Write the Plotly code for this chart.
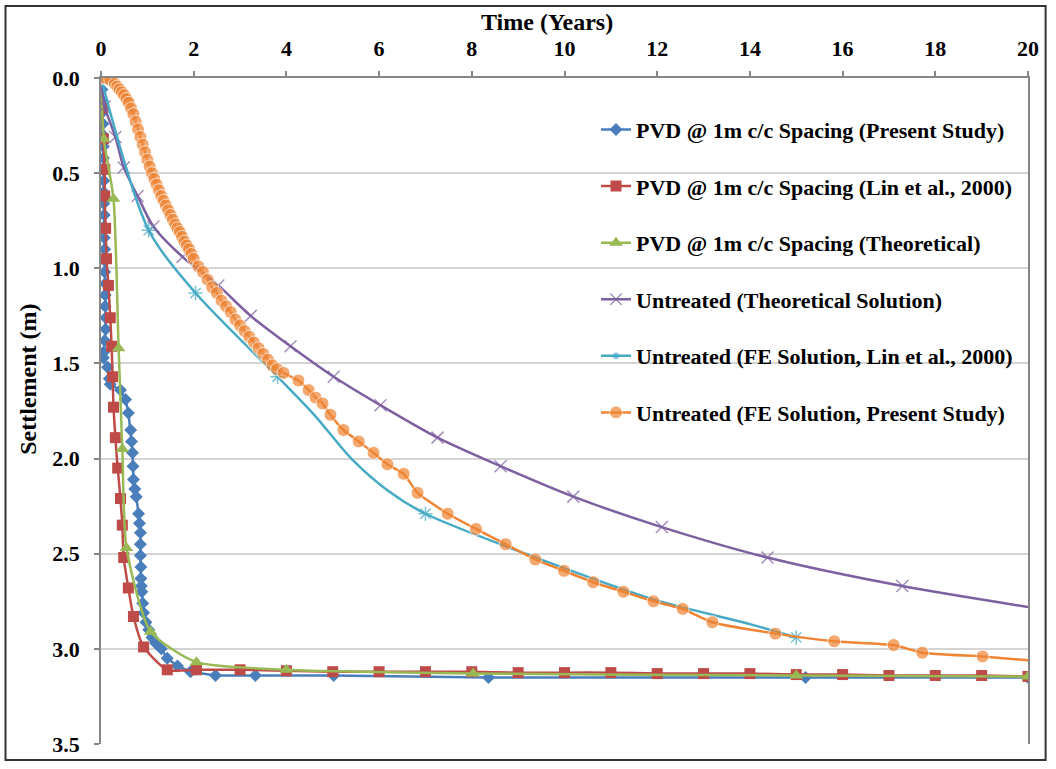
import plotly.graph_objects as go

# ---------------- data ----------------
x_ticks = [0, 2, 4, 6, 8, 10, 12, 14, 16, 18, 20]
y_ticks = [0.0, 0.5, 1.0, 1.5, 2.0, 2.5, 3.0, 3.5]
y_tick_labels = ["0.0", "0.5", "1.0", "1.5", "2.0", "2.5", "3.0", "3.5"]

names = [
    "PVD @ 1m c/c Spacing (Present Study)",
    "PVD @ 1m c/c Spacing (Lin et al., 2000)",
    "PVD @ 1m c/c Spacing (Theoretical)",
    "Untreated (Theoretical Solution)",
    "Untreated (FE Solution, Lin et al., 2000)",
    "Untreated (FE Solution, Present Study)",
]

# PVD present study (blue diamonds)
pvd_present_t = [0.00, 0.02, 0.03, 0.03, 0.04, 0.04, 0.05, 0.05, 0.05, 0.06, 0.06, 0.06, 0.07,
                 0.07, 0.07, 0.08, 0.08, 0.08, 0.09, 0.09, 0.09, 0.10, 0.10, 0.08, 0.06, 0.05,
                 0.14, 0.18, 0.20, 0.42, 0.53, 0.59, 0.64, 0.66, 0.68, 0.69, 0.70, 0.73, 0.76,
                 0.81, 0.83, 0.85, 0.85, 0.85, 0.86, 0.86, 0.87, 0.88, 0.90, 0.92, 0.97, 1.03,
                 1.10, 1.18, 1.30, 1.43, 1.65, 1.93, 2.47, 3.33, 5.02, 8.36, 15.2, 20.0]
pvd_present_s = [0.00, 0.06, 0.12, 0.18, 0.24, 0.30, 0.36, 0.42, 0.48, 0.54, 0.60, 0.66, 0.72,
                 0.78, 0.84, 0.90, 0.96, 1.02, 1.08, 1.14, 1.20, 1.26, 1.32, 1.38, 1.44, 1.47,
                 1.52, 1.58, 1.61, 1.64, 1.69, 1.76, 1.85, 1.91, 1.97, 2.04, 2.11, 2.16, 2.20,
                 2.29, 2.34, 2.39, 2.45, 2.51, 2.57, 2.63, 2.67, 2.70, 2.76, 2.81, 2.86, 2.90,
                 2.94, 2.97, 3.00, 3.05, 3.09, 3.12, 3.14, 3.14, 3.14, 3.15, 3.15, 3.15]

# PVD Lin et al. 2000 (red squares)
pvd_lin_t = [0.00, 0.03, 0.05, 0.08, 0.08, 0.10, 0.12, 0.16, 0.20, 0.23, 0.25, 0.27, 0.31, 0.36,
             0.42, 0.46, 0.49, 0.59, 0.70, 0.92, 1.43, 2.06, 3, 4, 5, 6, 7, 8, 9, 10, 11, 12,
             13, 14, 15, 16, 17, 18, 19, 20]
pvd_lin_s = [0.00, 0.16, 0.32, 0.48, 0.62, 0.79, 0.95, 1.09, 1.26, 1.41, 1.57, 1.73, 1.89, 2.05,
             2.21, 2.35, 2.52, 2.68, 2.83, 2.99, 3.11, 3.11, 3.11, 3.115, 3.12, 3.12, 3.12,
             3.12, 3.125, 3.125, 3.125, 3.13, 3.13, 3.13, 3.135, 3.135, 3.14, 3.14, 3.14, 3.145]

# PVD theoretical (green triangles)
pvd_theo_t = [0.00, 0.06, 0.27, 0.38, 0.46, 0.55, 1.07, 2.06, 4.0, 8.03, 15.0, 20.0]
pvd_theo_s = [0.00, 0.32, 0.635, 1.42, 1.95, 2.47, 2.91, 3.07, 3.11, 3.13, 3.14, 3.145]

# Untreated theoretical (purple x)
unt_theo_t = [0.00, 0.08, 0.31, 0.49, 0.79, 1.13, 1.76, 2.53, 3.23, 4.09, 5.02, 6.03, 7.26,
              8.62, 10.19, 12.10, 14.38, 17.29, 20.0]
unt_theo_s = [0.00, 0.15, 0.31, 0.47, 0.62, 0.78, 0.94, 1.09, 1.25, 1.41, 1.57, 1.72, 1.89,
              2.04, 2.20, 2.36, 2.52, 2.67, 2.78]
unt_theo_marked = [True] * 18 + [False]

# Untreated FE Lin et al. 2000 (cyan stars)
unt_lin_t = [0.00, 1.03, 2.04, 3.81, 4.60, 5.40, 6.20, 7.00, 9.27, 11.92, 14.0, 15.0]
unt_lin_s = [0.00, 0.80, 1.13, 1.57, 1.77, 2.00, 2.17, 2.29, 2.51, 2.74, 2.87, 2.94]
unt_lin_marked = [True, True, True, True, False, False, False, True, False, False, False, True]

# Untreated FE present study (orange circles)
unt_present_t = [0.0, 0.1, 0.2, 0.3, 0.35, 0.4, 0.45, 0.5, 0.55, 0.6, 0.65, 0.7, 0.75, 0.8,
                 0.85, 0.9, 0.95, 1.0, 1.05, 1.1, 1.15, 1.2, 1.25, 1.3, 1.35, 1.4, 1.45, 1.5,
                 1.55, 1.6, 1.65, 1.7, 1.75, 1.8, 1.85, 1.9, 1.95, 2.0, 2.1, 2.2, 2.3, 2.4,
                 2.5, 2.6, 2.7, 2.8, 2.9, 3.0, 3.1, 3.2, 3.3, 3.4, 3.5, 3.6, 3.7, 3.8, 3.94,
                 4.26, 4.48, 4.63, 4.78, 4.95, 5.23, 5.56, 5.88, 6.18, 6.53, 6.83, 7.48, 8.09,
                 8.73, 9.37, 9.99, 10.62, 11.27, 11.92, 12.55, 13.19, 14.55, 15.82, 17.10,
                 17.72, 19.02, 20.0]
unt_present_s = [0.00, 0.00, 0.01, 0.03, 0.045, 0.06, 0.075, 0.09, 0.11, 0.13, 0.16, 0.19,
                 0.23, 0.27, 0.31, 0.35, 0.39, 0.43, 0.465, 0.50, 0.53, 0.56, 0.59, 0.62,
                 0.645, 0.67, 0.695, 0.72, 0.745, 0.77, 0.79, 0.81, 0.835, 0.86, 0.88, 0.90,
                 0.925, 0.95, 0.99, 1.02, 1.06, 1.10, 1.13, 1.17, 1.20, 1.23, 1.27, 1.30, 1.33,
                 1.36, 1.39, 1.42, 1.45, 1.48, 1.51, 1.53, 1.55, 1.59, 1.64, 1.68, 1.71, 1.77,
                 1.85, 1.91, 1.97, 2.03, 2.08, 2.18, 2.29, 2.37, 2.45, 2.53, 2.59, 2.65, 2.70,
                 2.75, 2.79, 2.86, 2.92, 2.96, 2.98, 3.02, 3.04, 3.06]
unt_present_marked = [True] * (len(unt_present_t) - 1) + [False]

colors = ["#4A7EBB", "#BE4B48", "#98B954", "#7D60A0", "#46AAC5", "#EE8434"]

FONT = "Liberation Serif"

fig = go.Figure()


def sizes(flags, s):
    return [s if f else 0 for f in flags]


fig.add_trace(go.Scatter(
    x=pvd_present_t, y=pvd_present_s, name=names[0], mode="lines+markers",
    line=dict(color=colors[0], width=2.5),
    marker=dict(symbol="diamond", size=10, color=colors[0]), legendgroup="a"))
fig.add_trace(go.Scatter(
    x=pvd_lin_t, y=pvd_lin_s, name=names[1], mode="lines+markers",
    line=dict(color=colors[1], width=2.5, shape="spline", smoothing=0.6),
    marker=dict(symbol="square", size=11, color=colors[1]), legendgroup="b"))
fig.add_trace(go.Scatter(
    x=pvd_theo_t, y=pvd_theo_s, name=names[2], mode="lines+markers",
    line=dict(color=colors[2], width=2.5, shape="spline", smoothing=0.6),
    marker=dict(symbol="triangle-up", size=12, color=colors[2]), legendgroup="c"))
fig.add_trace(go.Scatter(
    x=unt_theo_t, y=unt_theo_s, name=names[3], mode="lines+markers",
    line=dict(color=colors[3], width=2.5, shape="spline", smoothing=0.8),
    marker=dict(symbol="x-thin-open", size=sizes(unt_theo_marked, 12), color=colors[3],
                line=dict(width=1.5, color=colors[3])), legendgroup="d"))
fig.add_trace(go.Scatter(
    x=unt_lin_t, y=unt_lin_s, name=names[4], mode="lines+markers",
    line=dict(color=colors[4], width=2.5, shape="spline", smoothing=0.8),
    marker=dict(symbol="asterisk-open", size=sizes(unt_lin_marked, 12), color=colors[4],
                line=dict(width=1.5, color=colors[4])), legendgroup="e"))
fig.add_trace(go.Scatter(
    x=unt_present_t, y=unt_present_s, name=names[5], mode="lines+markers",
    line=dict(color=colors[5], width=2.5, shape="spline", smoothing=0.5),
    marker=dict(symbol="circle", size=sizes(unt_present_marked, 13), color=colors[5]),
    legendgroup="f"))

# outer frame of the picture
fig.add_shape(type="rect", xref="paper", yref="paper",
              x0=-0.103, x1=1.019, y0=-0.024, y1=1.108,
              line=dict(color="#333333", width=2), layer="below")

# axis titles placed like the reference
fig.add_annotation(text="Time (Years)", xref="paper", yref="paper",
                   x=0.4811, y=1.0835, xanchor="center", yanchor="middle",
                   showarrow=False, font=dict(family=FONT, size=24, weight="bold"))
fig.add_annotation(text="Settlement (m)", xref="paper", yref="paper",
                   x=-0.0787, y=0.547, xanchor="center", yanchor="middle", textangle=-90,
                   showarrow=False, font=dict(family=FONT, size=24, weight="bold"))

fig.update_layout(
    width=1056, height=769,
    margin=dict(l=101, r=28, t=78, b=20),
    paper_bgcolor="white", plot_bgcolor="white",
    font=dict(family=FONT, color="black", size=22),
    showlegend=True,
    legend=dict(
        x=0.534, y=0.954, xanchor="left", yanchor="top",
        bgcolor="rgba(0,0,0,0)", borderwidth=0,
        font=dict(family=FONT, size=22, color="black", weight="bold"),
        tracegroupgap=25, itemwidth=30,
    ),
    xaxis=dict(
        side="top", range=[0, 20], tickvals=x_ticks,
        ticks="outside", ticklen=5, tickcolor="#868686", tickwidth=1.5,
        showline=True, linecolor="#868686", linewidth=1.5,
        showgrid=False, zeroline=False,
        tickfont=dict(family=FONT, size=22, weight="bold"),
        ticklabelstandoff=6,
    ),
    yaxis=dict(
        range=[3.5, 0], tickvals=y_ticks, ticktext=y_tick_labels,
        ticks="outside", ticklen=5, tickcolor="#868686", tickwidth=1.5,
        showline=True, linecolor="#868686", linewidth=1.5, mirror=True,
        showgrid=True, gridcolor="#D4D4D4", gridwidth=1.5, zeroline=False,
        tickfont=dict(family=FONT, size=22, weight="bold"),
        ticklabelstandoff=10,
    ),
)

fig.write_html("out.html")
